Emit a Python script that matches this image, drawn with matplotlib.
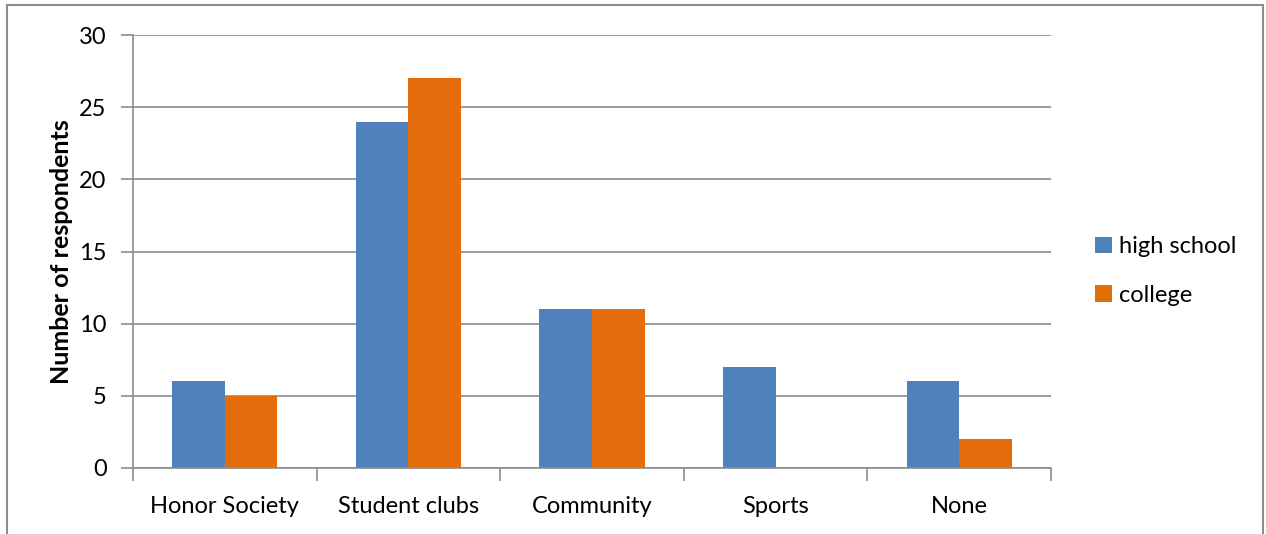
import matplotlib.pyplot as plt
import numpy as np
from matplotlib.patches import Rectangle

categories = ["Honor Society", "Student clubs", "Community", "Sports", "None"]
high_school = [6, 24, 11, 7, 6]
college = [5, 27, 11, 0, 2]
y_ticks = [0, 5, 10, 15, 20, 25, 30]

plt.rcParams['font.family'] = ['Lato', 'DejaVu Sans']

fig = plt.figure(figsize=(12.66, 5.34), dpi=100)
ax = fig.add_axes([133 / 1266, 66 / 534, (1051 - 133) / 1266, (468 - 35) / 534])

# borde exterior del grafico
fig.patches.append(Rectangle((7 / 1266, -0.1), (1263 - 7) / 1266, 1.1 - 5 / 534,
                             transform=fig.transFigure, fill=False,
                             edgecolor='#8c8c8c', linewidth=1.5))

x = np.arange(len(categories))
w = 0.286
ax.bar(x - w / 2, high_school, w, color='#4F81BD', label='high school')
ax.bar(x + w / 2, college, w, color='#E46C0A', label='college')

ax.set_xlim(-0.5, len(categories) - 0.5)
ax.set_ylim(0, 30)
ax.set_yticks(y_ticks)
ax.yaxis.grid(True, color='#8c8c8c', linewidth=1.2)
ax.set_axisbelow(True)

ax.set_xticks(x)
ax.set_xticklabels(categories)
ax.set_xticks(np.arange(len(categories) + 1) - 0.5, minor=True)
ax.tick_params(axis='x', which='major', length=0, pad=20, labelsize=17)
ax.tick_params(axis='x', which='minor', length=9, color='#8c8c8c', width=1.2)
ax.tick_params(axis='y', length=9, color='#8c8c8c', width=1.2, labelsize=17, pad=10)

for s in ['top', 'right']:
    ax.spines[s].set_visible(False)
for s in ['left', 'bottom']:
    ax.spines[s].set_color('#8c8c8c')
    ax.spines[s].set_linewidth(1.2)

ax.set_ylabel("Number of respondents", fontsize=18, fontweight='bold', labelpad=4)

ax.legend(loc='center left', bbox_to_anchor=(1.025, 0.455), frameon=False,
          fontsize=17, handlelength=0.7, handleheight=0.7, labelspacing=1.15,
          handletextpad=0.3)

plt.savefig('out.png', dpi=100)
